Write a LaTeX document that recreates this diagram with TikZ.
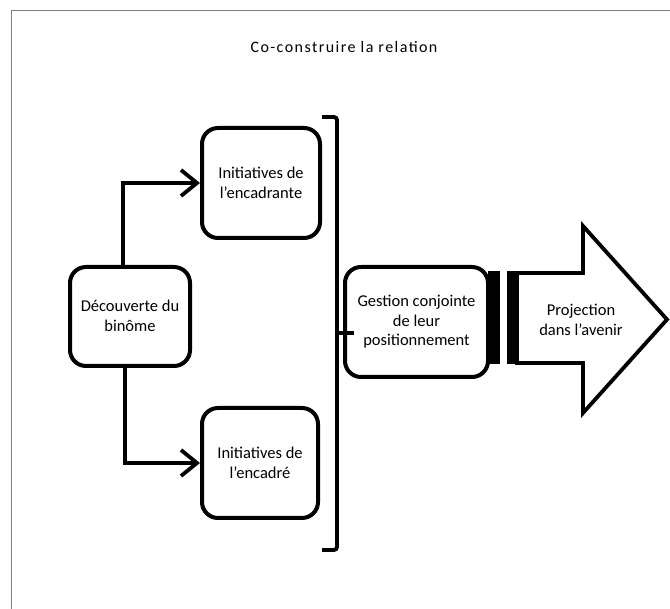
\documentclass[tikz,border=0pt]{standalone}
\usepackage{fontspec}
\setmainfont{Carlito}
\newfontfamily\titlefont[LetterSpace=9]{Carlito}
\usetikzlibrary{arrows.meta}
\begin{document}
\begin{tikzpicture}[x=1pt,y=-1pt,
  txt/.style={align=center, font=\fontsize{16.5}{19.5}\selectfont, inner sep=1pt},
  box/.style={txt, draw, line width=4pt, rounded corners=16pt},
  conn/.style={line width=3.8pt, -{Straight Barb[length=16pt,width=26pt]}},
  thickline/.style={line width=3.8pt},
  framestyle/.style={line width=1pt, draw=black!50}]
\useasboundingbox (0,0) rectangle (670,609);
% frame
\draw[framestyle] (11,609) -- (11,11) -- (670,11);
% title
\node[txt, font=\fontsize{16}{19.5}\titlefont] (title) at (344,47) {Co-construire la relation};
% boxes
\node[box, minimum width=120pt, minimum height=99pt] (dec) at (130,316.5) {\\[-9pt]Découverte du\\binôme};
\node[box, minimum width=118pt, minimum height=110pt] (ini1) at (261,183) {Initiatives de\\l'encadrante};
\node[box, minimum width=116pt, minimum height=110pt] (ini2) at (260,463) {Initiatives de\\l'encadré};
% connectors
\draw[conn] ([xshift=-7pt]dec.north) |- (ini1.west);
\draw[conn] ([xshift=-5pt]dec.south) |- (ini2.west);
% bracket
\coordinate (btop) at (337,117);
\coordinate (bbot) at (337,550);
\draw[thickline, rounded corners=3pt] ([xshift=-15pt]btop) -- (btop) -- (bbot) -- ([xshift=-15pt]bbot);
% striped arrow
\fill (488,271.5) rectangle (500,364.5);
\fill (507,271.5) rectangle (518,364.5);
\draw[thickline, line join=miter] (517,273) -- (583,273) -- (583,226) -- (667,319.5) -- (583,413) -- (583,363) -- (517,363) -- cycle;
\node[txt] (proj) at (581,320) {Projection\\dans l'avenir};
% central box
\node[box, fill=white, minimum width=143pt, minimum height=110pt] (ges) at (416.5,322) {Gestion conjointe\\de leur\\positionnement};
\coordinate (bmid) at (337,333);
\draw[thickline] (bmid) -- ++(17,0);
\end{tikzpicture}
\end{document}
